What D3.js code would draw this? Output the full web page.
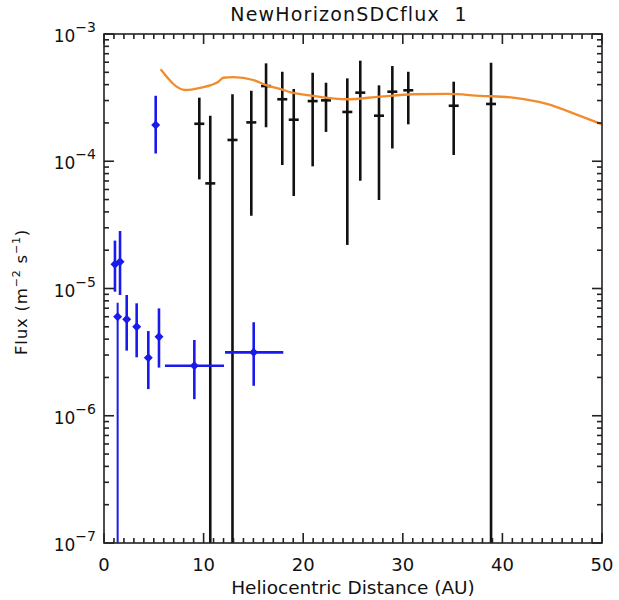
<!DOCTYPE html>
<html>
<head>
<meta charset="utf-8">
<script src="https://cdn.jsdelivr.net/npm/d3@7"></script>
<style>
  body { margin: 0; background: #fff; }
  text { font-family: "DejaVu Sans", sans-serif; fill: #111; }
</style>
</head>
<body>
<svg id="chart" width="619" height="600"></svg>
<script>
// ---- Data ----
const titleText = "NewHorizonSDCflux\u00a0 1";
const xTickValues = [0, 10, 20, 30, 40, 50];
const yDecades = [-7, -6, -5, -4, -3];

// Black points (New Horizons SDC): distance, flux, upper, lower
const sdcX     = [9.57, 10.67, 12.9, 14.79, 16.27, 17.9, 19.05, 20.95, 22.29, 24.43, 25.73, 27.61, 28.95, 30.55, 35.11, 38.86];
const sdcFlux  = [1.97e-4, 6.7e-5, 1.47e-4, 2.02e-4, 3.9e-4, 3.07e-4, 2.12e-4, 2.97e-4, 3.01e-4, 2.44e-4, 3.46e-4, 2.28e-4, 3.52e-4, 3.61e-4, 2.73e-4, 2.82e-4];
const sdcUpper = [3.16e-4, 2.28e-4, 3.36e-4, 3.58e-4, 5.88e-4, 5.05e-4, 3.7e-4, 4.96e-4, 4.14e-4, 4.48e-4, 6.17e-4, 3.95e-4, 5.6e-4, 5.05e-4, 4.22e-4, 5.95e-4];
const sdcLower = [7.2e-5, 1e-8, 1e-8, 3.73e-5, 1.85e-4, 9.34e-5, 5.33e-5, 9.12e-5, 1.7e-4, 2.2e-5, 7.03e-5, 4.96e-5, 1.26e-4, 1.95e-4, 1.12e-4, 1e-8];

// Blue points: distance, x-range, flux, upper, lower
const bX      = [1.10, 1.61, 1.37, 2.28, 3.28, 4.45, 5.52, 9.07, 15.03, 5.19];
const bXlo    = [null, null, null, null, null, null, null, 6.12, 12.15, null];
const bXhi    = [null, null, null, null, null, null, null, 12.05, 18.0, null];
const bFlux   = [1.55e-5, 1.62e-5, 6.0e-6, 5.73e-6, 5.01e-6, 2.86e-6, 4.18e-6, 2.47e-6, 3.15e-6, 1.93e-4];
const bUpper  = [2.38e-5, 2.83e-5, 7.73e-6, 8.89e-6, 7.65e-6, 4.63e-6, 6.98e-6, 3.94e-6, 5.43e-6, 3.27e-4];
const bLower  = [9.44e-6, 8.89e-6, 1e-8, 3.25e-6, 2.88e-6, 1.62e-6, 2.39e-6, 1.35e-6, 1.72e-6, 1.15e-4];

// Orange model curve
const modelX = [5.69, 8.13, 9.64, 11.48, 11.98, 12.98, 14.99, 16.27, 17.84, 18.67, 20.98, 24.37, 27.71, 31.02, 34.41, 37.75, 41.06, 44.45, 47.79, 50];
const modelY = [5.28e-4, 3.63e-4, 3.78e-4, 4.22e-4, 4.53e-4, 4.59e-4, 4.35e-4, 3.97e-4, 3.67e-4, 3.50e-4, 3.27e-4, 3.07e-4, 3.22e-4, 3.36e-4, 3.38e-4, 3.27e-4, 3.16e-4, 2.82e-4, 2.27e-4, 1.95e-4];

// ---- Layout ----
const L = 104, R = 602, T = 34, B = 543;
const svg = d3.select("#chart");
const x = d3.scaleLinear().domain([0, 50]).range([L, R]);
const y = d3.scaleLog().domain([1e-7, 1e-3]).range([B, T]);

svg.append("clipPath").attr("id", "clip").append("rect")
  .attr("x", L).attr("y", T).attr("width", R - L).attr("height", B - T);
const inner = svg.append("g").attr("clip-path", "url(#clip)");

// Black error bars
const black = "#111";
sdcX.forEach((d, i) => {
  inner.append("line").attr("x1", x(d)).attr("x2", x(d))
    .attr("y1", y(sdcUpper[i])).attr("y2", y(Math.max(sdcLower[i], 1e-8)))
    .attr("stroke", black).attr("stroke-width", 2.6);
  inner.append("line").attr("x1", x(d) - 5).attr("x2", x(d) + 5)
    .attr("y1", y(sdcFlux[i])).attr("y2", y(sdcFlux[i]))
    .attr("stroke", black).attr("stroke-width", 2.6);
});

// Orange curve
const line = d3.line().x((d, i) => x(modelX[i])).y((d, i) => y(modelY[i])).curve(d3.curveMonotoneX);
inner.append("path").datum(modelX).attr("d", line)
  .attr("fill", "none").attr("stroke", "#f28b2c").attr("stroke-width", 2.3);

// Blue points
const blue = "#1a1aee";
bX.forEach((d, i) => {
  const thin = bLower[i] < 1e-7;
  inner.append("line").attr("x1", x(d)).attr("x2", x(d))
    .attr("y1", y(bUpper[i])).attr("y2", y(Math.max(bLower[i], 1e-8)))
    .attr("stroke", blue).attr("stroke-width", thin ? 2 : 2.6);
  if (bXlo[i] !== null) {
    inner.append("line").attr("x1", x(bXlo[i])).attr("x2", x(bXhi[i]))
      .attr("y1", y(bFlux[i])).attr("y2", y(bFlux[i]))
      .attr("stroke", blue).attr("stroke-width", 2.6);
  }
  const cx = x(d), cy = y(bFlux[i]), s = 4.5;
  inner.append("path")
    .attr("d", `M${cx},${cy - s}L${cx + s},${cy}L${cx},${cy + s}L${cx - s},${cy}Z`)
    .attr("fill", blue);
});

// ---- Axes (IDL-style box with inward ticks) ----
const axisG = svg.append("g").attr("stroke", "#222").attr("stroke-width", 1.6).attr("fill", "none");
axisG.append("rect").attr("x", L).attr("y", T).attr("width", R - L).attr("height", B - T);

d3.range(0, 51, 1).forEach(v => {
  const len = v % 10 === 0 ? 10 : 5;
  axisG.append("line").attr("x1", x(v)).attr("x2", x(v)).attr("y1", B).attr("y2", B - len);
  axisG.append("line").attr("x1", x(v)).attr("x2", x(v)).attr("y1", T).attr("y2", T + len);
});
yDecades.forEach(e => {
  const base = Math.pow(10, e);
  [L, R].forEach(side => {
    const dir = side === L ? 1 : -1;
    axisG.append("line").attr("x1", side).attr("x2", side + dir * 10).attr("y1", y(base)).attr("y2", y(base));
    if (e < -3) {
      for (let m = 2; m <= 9; m++) {
        axisG.append("line").attr("x1", side).attr("x2", side + dir * 5)
          .attr("y1", y(m * base)).attr("y2", y(m * base));
      }
    }
  });
});

// X tick labels
svg.append("g").selectAll("text").data(xTickValues).join("text")
  .attr("x", d => x(d)).attr("y", 571)
  .attr("text-anchor", "middle").attr("font-size", 18).text(d => d);

// Y tick labels
const yl = svg.append("g");
yDecades.forEach(e => {
  const t = yl.append("text").attr("x", L - 8).attr("y", y(Math.pow(10, e)) + 8)
    .attr("text-anchor", "end").attr("font-size", 17);
  t.append("tspan").text("10");
  t.append("tspan").attr("dy", -10).attr("font-size", 14).text("\u2212" + Math.abs(e));
});

// Title
svg.append("text").attr("x", 349).attr("y", 21).attr("text-anchor", "middle")
  .attr("font-size", 19).attr("letter-spacing", 1.2).text(titleText);

// X axis title
svg.append("text").attr("x", 353).attr("y", 594).attr("text-anchor", "middle")
  .attr("font-size", 18.5).text("Heliocentric Distance (AU)");

// Y axis title
const yt = svg.append("text").attr("transform", `translate(27,292) rotate(-90)`)
  .attr("text-anchor", "middle").attr("font-size", 16.5).attr("letter-spacing", 0.8);
yt.append("tspan").text("Flux (m");
yt.append("tspan").attr("dy", -7).attr("font-size", 11).text("\u22122");
yt.append("tspan").attr("dy", 7).text(" s");
yt.append("tspan").attr("dy", -7).attr("font-size", 11).text("\u22121");
yt.append("tspan").attr("dy", 7).text(")");
</script>
</body>
</html>
